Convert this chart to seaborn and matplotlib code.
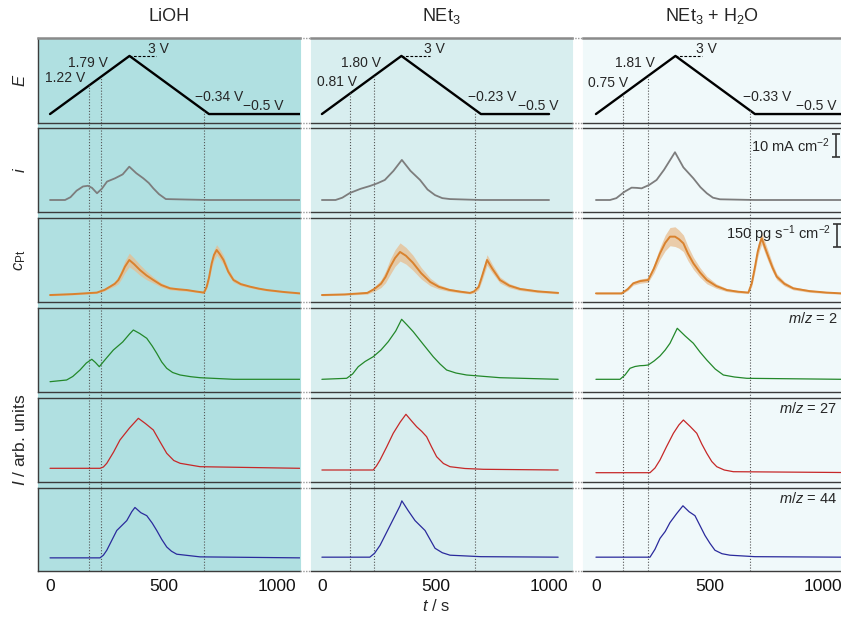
import numpy as np
import seaborn as sns
import matplotlib.pyplot as plt
from matplotlib.patches import Rectangle
from matplotlib.lines import Line2D

sns.set_theme(style="white", context="paper")
plt.rcParams['font.family'] = ['Liberation Sans', 'DejaVu Sans']
plt.rcParams['mathtext.fontset'] = 'custom'
plt.rcParams['mathtext.rm'] = 'Liberation Sans'
plt.rcParams['mathtext.it'] = 'Liberation Sans:italic'

# ---------------- data ----------------
titles = ['LiOH', r'NEt$_3$', r'NEt$_3$ + H$_2$O']

# potential programme E / V
e_t = [[0, 350, 700, 1100], [0, 350, 700, 1000], [0, 350, 700, 1080]]
e_v = [-0.5, 3.0, -0.5, -0.5]
e_dash_end = [467, 476, 467]
mark_t = [[172, 224, 680], [125, 228, 672], [120, 230, 678]]
mark_v = [['1.22 V', '1.79 V', '\u22120.34 V'],
          ['0.81 V', '1.80 V', '\u22120.23 V'],
          ['0.75 V', '1.81 V', '\u22120.33 V']]

# current density i / mA cm-2
i_lioh_t = [0, 66, 90, 117, 145, 167, 185, 207, 228, 251, 286, 320, 349, 380, 411, 435, 455, 480, 510, 600, 700, 1100]
i_lioh = [0, 0, 1.2, 4.0, 5.8, 6.1, 5.2, 2.9, 4.8, 7.9, 9.3, 11.0, 14.3, 11.5, 9.3, 7.3, 5.0, 2.5, 0.4, 0.2, 0, 0]
i_net_t = [0, 60, 90, 123, 170, 211, 245, 277, 315, 352, 390, 432, 465, 498, 530, 564, 700, 1000]
i_net = [0, 0, 1.0, 3.0, 4.8, 6.0, 7.2, 8.6, 12.5, 17.2, 12.5, 8.6, 4.5, 2.1, 0.8, 0.4, 0, 0]
i_wat_t = [0, 62, 90, 125, 157, 180, 201, 235, 267, 300, 348, 385, 429, 460, 488, 515, 546, 700, 1080]
i_wat = [0, 0, 0.8, 3.5, 5.3, 5.2, 5.0, 6.5, 8.6, 13.0, 20.5, 14.0, 9.3, 5.5, 2.9, 1.0, 0.3, 0, 0]

# Pt dissolution rate c_Pt / pg s-1 cm-2 (centre and scatter half-width)
c_lioh_t = [0, 100, 206, 240, 264, 285, 301, 315, 330, 349, 370, 396, 425, 455, 490, 529, 570, 602, 640, 678,
            690, 700, 712, 722, 734, 748, 764, 785, 808, 840, 881, 920, 955, 1030, 1100]
c_lioh = [46, 52, 62, 80, 101, 120, 145, 185, 233, 277, 250, 211, 175, 145, 112, 90, 83, 79, 70, 62,
          101, 160, 255, 310, 343, 315, 277, 200, 145, 118, 101, 88, 79, 66, 57]
c_lioh_sd = [5, 5, 5, 7, 10, 15, 25, 32, 40, 45, 40, 35, 28, 20, 14, 10, 9, 8, 6, 5,
             15, 22, 30, 34, 35, 33, 30, 22, 15, 10, 8, 7, 6, 5, 5]
c_net_t = [0, 100, 200, 230, 260, 280, 300, 322, 344, 370, 400, 437, 477, 515, 560, 610, 652, 670, 690, 705,
           727, 750, 784, 825, 872, 950, 1040]
c_net = [46, 50, 60, 85, 120, 165, 230, 290, 330, 305, 260, 190, 132, 100, 80, 68, 60, 70, 100, 170,
         277, 220, 145, 108, 86, 70, 60]
c_net_sd = [5, 5, 8, 15, 25, 38, 50, 55, 60, 55, 50, 38, 25, 15, 10, 8, 6, 10, 18, 28,
            35, 28, 20, 14, 10, 8, 6]
c_wat_t = [0, 113, 140, 164, 195, 230, 255, 282, 305, 326, 348, 365, 385, 405, 429, 458, 488, 530, 576, 625,
           671, 686, 700, 712, 722, 730, 744, 759, 778, 796, 830, 869, 940, 1016, 1080]
c_wat = [57, 57, 85, 123, 138, 145, 220, 321, 390, 431, 431, 415, 387, 320, 255, 195, 145, 105, 79, 68,
         62, 123, 230, 330, 387, 420, 360, 299, 225, 167, 120, 90, 72, 62, 57]
c_wat_sd = [5, 5, 9, 12, 14, 15, 28, 40, 52, 60, 65, 60, 55, 48, 40, 32, 25, 15, 10, 8,
            6, 20, 32, 38, 40, 40, 38, 35, 27, 20, 14, 10, 8, 6, 5]

# mass spectrometer ion currents (arb. units)
ms2_lioh_t = [0, 73, 100, 132, 160, 184, 200, 217, 245, 279, 320, 350, 367, 395, 426, 450, 470, 492, 514, 540,
              573, 620, 661, 808, 1100]
ms2_lioh = [10.3, 12, 15.5, 22, 29, 32.7, 29.5, 25.3, 33, 42, 50, 58, 62, 58.5, 53.7, 46, 38.7, 30, 23.7, 19.5,
            17, 15.3, 14.3, 12.7, 12.7]
ms27_lioh_t = [0, 220, 235, 250, 280, 308, 350, 389, 420, 455, 485, 514, 545, 573, 661, 1100]
ms27_lioh = [13.7, 13.7, 15, 18.7, 30, 42, 54, 63.7, 58.5, 52, 40, 28.7, 21.5, 18.7, 15.3, 13.7]
ms44_lioh_t = [0, 220, 235, 250, 272, 294, 338, 360, 374, 400, 426, 450, 470, 492, 514, 535, 558, 661, 1100]
ms44_lioh = [13.3, 13.3, 16, 21, 31, 41, 51, 60, 64.3, 59, 56, 48.5, 41, 32, 24.3, 20, 17, 14.3, 13.3]

ms2_net_t = [0, 109, 135, 160, 190, 226, 260, 292, 325, 351, 375, 402, 445, 490, 520, 549, 590, 637, 784, 1040]
ms2_net = [12.7, 13.7, 18, 25.3, 30.5, 35.3, 42, 50.3, 61, 72.7, 67, 60.3, 48, 35.3, 28, 22, 19, 17, 14.3, 12.7]
ms27_net_t = [0, 226, 240, 256, 285, 314, 345, 370, 395, 417, 440, 461, 483, 505, 535, 564, 630, 711, 1040]
ms27_net = [12, 12, 16, 22, 35, 48.7, 60, 67.7, 61, 55.3, 50.5, 45.3, 35, 25.3, 18.5, 15.3, 13.5, 12.7, 12]
ms44_net_t = [0, 211, 232, 256, 278, 300, 322, 344, 352, 380, 410, 432, 454, 476, 498, 530, 564, 700, 1040]
ms44_net = [14, 14, 18, 26, 36, 46, 56, 66, 71, 61, 51, 46, 41, 32, 23, 18.5, 16, 14.5, 14]

ms2_wat_t = [0, 106, 128, 150, 172, 194, 212, 230, 256, 282, 305, 326, 358, 393, 429, 458, 488, 525, 561, 610,
             664, 1080]
ms2_wat = [12.7, 12.7, 17, 23.7, 25.5, 26.3, 26.5, 27, 31, 36, 42, 48.7, 63.7, 56, 48.7, 40, 32, 23, 17, 15,
           13.7, 12.7]
ms27_wat_t = [0, 238, 260, 282, 310, 341, 365, 385, 415, 444, 466, 488, 510, 532, 565, 605, 1080]
ms27_wat = [9.3, 9.3, 14, 22, 35, 48.7, 57, 62, 55.5, 48.7, 38, 28.7, 20.5, 15.3, 12, 10.3, 9.5]
ms44_wat_t = [0, 238, 260, 282, 305, 326, 355, 383, 410, 436, 458, 480, 502, 524, 555, 590, 700, 1080]
ms44_wat = [14, 14, 22, 33, 40, 49, 58, 66, 60, 56, 46, 36, 28, 21, 17.5, 16, 14.5, 14]

i_scale = 10      # mA cm-2 scale bar
c_scale = 150     # pg s-1 cm-2 scale bar
mz_labels = ['2', '27', '44']

# ---------------- layout ----------------
W, H = 841, 619
fig = plt.figure(figsize=(W / 100, H / 100), dpi=100)

def rect(l, t, r, b):
    return [l / W, 1 - b / H, (r - l) / W, (b - t) / H]

col_px = [(38, 300), (311, 572), (583, 841)]
row_px = [(38, 123), (128, 212), (218, 302), (308, 392), (398, 482), (488, 571)]
bg = ['#b0e0e1', '#d8eeef', '#f0f9fa']
xlims = [(-53, 1101), (-48, 1101), (-57, 1079)]
ylims = [(-1.04, 4.08), (-5.15, 30.9), (0, 554), (0, 84), (0, 84), (0, 84)]

dot = dict(color='#555555', lw=0.8, ls=(0, (1, 1.6)))
spine_c = '#3c3c3c'

for c, (l, r) in enumerate(col_px):
    fig.patches.append(Rectangle((l / W, 1 - 571 / H), (r - l) / W, (571 - 38) / H,
                                 transform=fig.transFigure, color=bg[c], zorder=-5))

i_data = [(i_lioh_t, i_lioh), (i_net_t, i_net), (i_wat_t, i_wat)]
c_data = [(c_lioh_t, c_lioh, c_lioh_sd), (c_net_t, c_net, c_net_sd), (c_wat_t, c_wat, c_wat_sd)]
ms_data = [[(ms2_lioh_t, ms2_lioh), (ms2_net_t, ms2_net), (ms2_wat_t, ms2_wat)],
           [(ms27_lioh_t, ms27_lioh), (ms27_net_t, ms27_net), (ms27_wat_t, ms27_wat)],
           [(ms44_lioh_t, ms44_lioh), (ms44_net_t, ms44_net), (ms44_wat_t, ms44_wat)]]
ms_colors = ['#23882a', '#c62828', '#2a2a9c']

# label anchors for the E panel, (t, E) per column
lab_pos = [[(154, 1.67), (255, 2.57), (432, 3.42), (639, 0.52), (850, -0.02)],
           [(154, 1.43), (260, 2.57), (449, 3.42), (643, 0.52), (863, -0.02)],
           [(141, 1.37), (260, 2.57), (441, 3.42), (648, 0.52), (881, -0.02)]]

for r, (top, bot) in enumerate(row_px):
    for c, (l, rr) in enumerate(col_px):
        ax = fig.add_axes(rect(l, top, rr, bot))
        ax.set_facecolor('none')
        ax.set_xlim(*xlims[c])
        ax.set_ylim(*ylims[r])
        ax.set_yticks([])
        ax.set_xticks([0, 500, 1000])
        ax.tick_params(axis='x', direction='in', length=4, width=1, color=spine_c,
                       labelbottom=(r == 5), labelsize=12.5, pad=6, labelcolor='#111')
        for s in ax.spines.values():
            s.set_color(spine_c)
            s.set_linewidth(1.0)
        ax.spines['right'].set_visible(False)
        if c > 0:
            ax.spines['left'].set_visible(False)
        if r == 0:
            ax.spines['top'].set_color('#8a8a8a')
            ax.spines['top'].set_linewidth(1.8)

        if r == 0:
            sns.lineplot(x=e_t[c], y=e_v, ax=ax, color='black', lw=1.7)
            ax.plot([e_t[c][1], e_dash_end[c]], [e_v[1], e_v[1]], color='black', lw=0.8, ls=(0, (2.5, 1.5)))
            for tm in mark_t[c]:
                ev = np.interp(tm, e_t[c], e_v)
                ax.axvline(tm, ymin=0, ymax=(ev - ylims[0][0]) / (ylims[0][1] - ylims[0][0]), **dot)
            txt = [mark_v[c][0], mark_v[c][1], '3 V', mark_v[c][2], '\u22120.5 V']
            for k, (s, (tx, ey)) in enumerate(zip(txt, lab_pos[c])):
                ax.text(tx, ey, s, ha='right' if k < 2 else 'left', va='center', fontsize=10)
        else:
            for tm in mark_t[c]:
                ax.axvline(tm, ymin=0, ymax=1.075, clip_on=False, **dot)

        if r == 1:
            sns.lineplot(x=i_data[c][0], y=i_data[c][1], ax=ax, color='#7d7d7d', lw=1.3)
        if r == 2:
            tt, cc, sd = (np.array(a, float) for a in c_data[c])
            ax.fill_between(tt, cc - sd, cc + sd, color='#e8bd8f', alpha=0.75, lw=0)
            sns.lineplot(x=tt, y=cc, ax=ax, color='#d9822e', lw=1.4)
        if r >= 3:
            tt, vv = ms_data[r - 3][c]
            sns.lineplot(x=tt, y=vv, ax=ax, color=ms_colors[r - 3], lw=0.9)
            if c == 2:
                ax.text(0.985, 0.87, r'$m/z$ = ' + mz_labels[r - 3], transform=ax.transAxes,
                        ha='right', va='center', fontsize=10.5)
        if r == 1 and c == 2:
            ax.errorbar([1057], [18.5 + i_scale / 2], yerr=[i_scale / 2], color='#333', lw=1.2,
                        capsize=3, capthick=1.2, fmt='none', clip_on=False)
            ax.text(1030, 23.5, r'10 mA cm$^{-2}$', ha='right', va='center', fontsize=10.5)
        if r == 2 and c == 2:
            ax.errorbar([1062], [365 + c_scale / 2], yerr=[c_scale / 2], color='#333', lw=1.2,
                        capsize=3, capthick=1.2, fmt='none', clip_on=False)
            ax.text(1035, 450, r'150 pg s$^{-1}$ cm$^{-2}$', ha='right', va='center', fontsize=10.5)
        ax.set_xlabel('')
        ax.set_ylabel('')
        if r == 0:
            ax.set_title(titles[c], fontsize=13, pad=12)

# dotted continuation of the spines across the column breaks
for top, bot in row_px:
    for y in (top, bot):
        for x0, x1 in ((300, 311), (572, 583)):
            fig.add_artist(Line2D([x0 / W, x1 / W], [1 - y / H, 1 - y / H], color='#9a9a9a',
                                  lw=1, ls=(0, (1, 1))))

fig.text(20 / W, 1 - 80 / H, '$E$', rotation=90, ha='center', va='center', fontsize=12)
fig.text(20 / W, 1 - 170 / H, '$i$', rotation=90, ha='center', va='center', fontsize=12)
fig.text(20 / W, 1 - 260 / H, r'$c_{\mathrm{Pt}}$', rotation=90, ha='center', va='center', fontsize=12)
fig.text(20 / W, 1 - 440 / H, r'$I$ / arb. units', rotation=90, ha='center', va='center', fontsize=12.5)
fig.text(436 / W, 1 - 606 / H, r'$t$ / s', ha='center', va='center', fontsize=12)

fig.savefig('out.png', dpi=100)
